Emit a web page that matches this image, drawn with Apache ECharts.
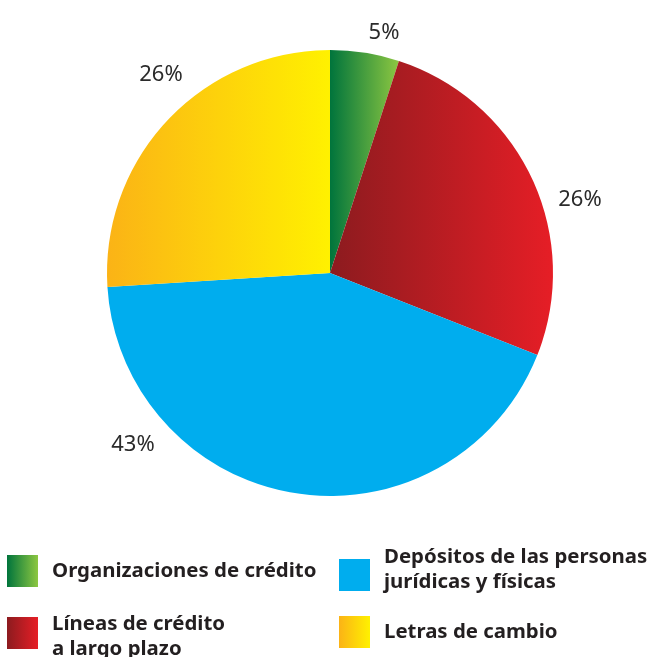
<!DOCTYPE html>
<html><head><meta charset="utf-8">
<script src="https://cdn.jsdelivr.net/npm/echarts@6/dist/echarts.min.js"></script>
<style>html,body{margin:0;padding:0;background:#fff}#c{width:656px;height:657px}</style>
</head><body><div id="c"></div>
<script>
const categories = ['Organizaciones de crédito', 'Líneas de crédito\na largo plazo', 'Depósitos de las personas\njurídicas y físicas', 'Letras de cambio'];
const values = [5, 26, 43, 26];
const labelsText = ['5%', '26%', '43%', '26%'];

const gradients = [
  ['#00743c', '#8dc741'],
  ['#8c1b1f', '#e61e26'],
  ['#00adee', '#00adee'],
  ['#fbb316', '#fff100']
];
const labelPos = [[384, 33], [580, 200], [133, 445], [161, 75]];

function grad(c) {
  return new echarts.graphic.LinearGradient(0, 0, 1, 0, [{offset: 0, color: c[0]}, {offset: 1, color: c[1]}]);
}

const chart = echarts.init(document.getElementById('c'), null, {renderer: 'canvas'});
const data = categories.map((n, i) => ({
  name: n, value: values[i],
  itemStyle: {color: grad(gradients[i])},
  label: {formatter: labelsText[i]}
}));

// legend placement: spacer before (pre) or after (post) the text block, in px
const legendPos = [
  {left: 7, top: 555, pre: 0, post: 0},
  {left: 7, top: 604, pre: 8, post: 0},
  {left: 339, top: 545, pre: 0, post: 10},
  {left: 339, top: 616, pre: 0, post: 0}
];
const txt = {fontFamily: 'Noto Sans', fontWeight: 'bold', fontSize: 20.4, color: '#231f20', lineHeight: 25};
const legends = categories.map((n, i) => {
  const lp = legendPos[i];
  return {
    data: [n],
    left: lp.left, top: lp.top,
    padding: 0,
    icon: 'rect',
    itemWidth: 31, itemHeight: 32, itemGap: 0,
    selectedMode: false,
    formatter: function (name) {
      let lines = name.split('\n').map(s => '{a|' + s + '}');
      if (lp.pre) lines.unshift('{pre| }');
      if (lp.post) lines.push('{post| }');
      return lines.join('\n');
    },
    textStyle: Object.assign({}, txt, {
      padding: [0, 0, 0, 9],
      rich: {
        a: txt,
        pre: {fontSize: 4, lineHeight: lp.pre || 1},
        post: {fontSize: 4, lineHeight: lp.post || 1}
      }
    })
  };
});

chart.setOption({
  animation: false,
  legend: legends,
  series: [{
    type: 'pie',
    center: [330, 273],
    radius: [0, 223],
    startAngle: 90,
    clockwise: true,
    data: data,
    label: {position: 'outside', fontFamily: 'Noto Sans', fontSize: 22, color: '#2b2b2b'},
    labelLine: {show: false},
    labelLayout: function (p) {
      const pos = labelPos[p.dataIndex];
      return {x: pos[0], y: pos[1], align: 'center', verticalAlign: 'middle'};
    }
  }]
});
</script></body></html>
